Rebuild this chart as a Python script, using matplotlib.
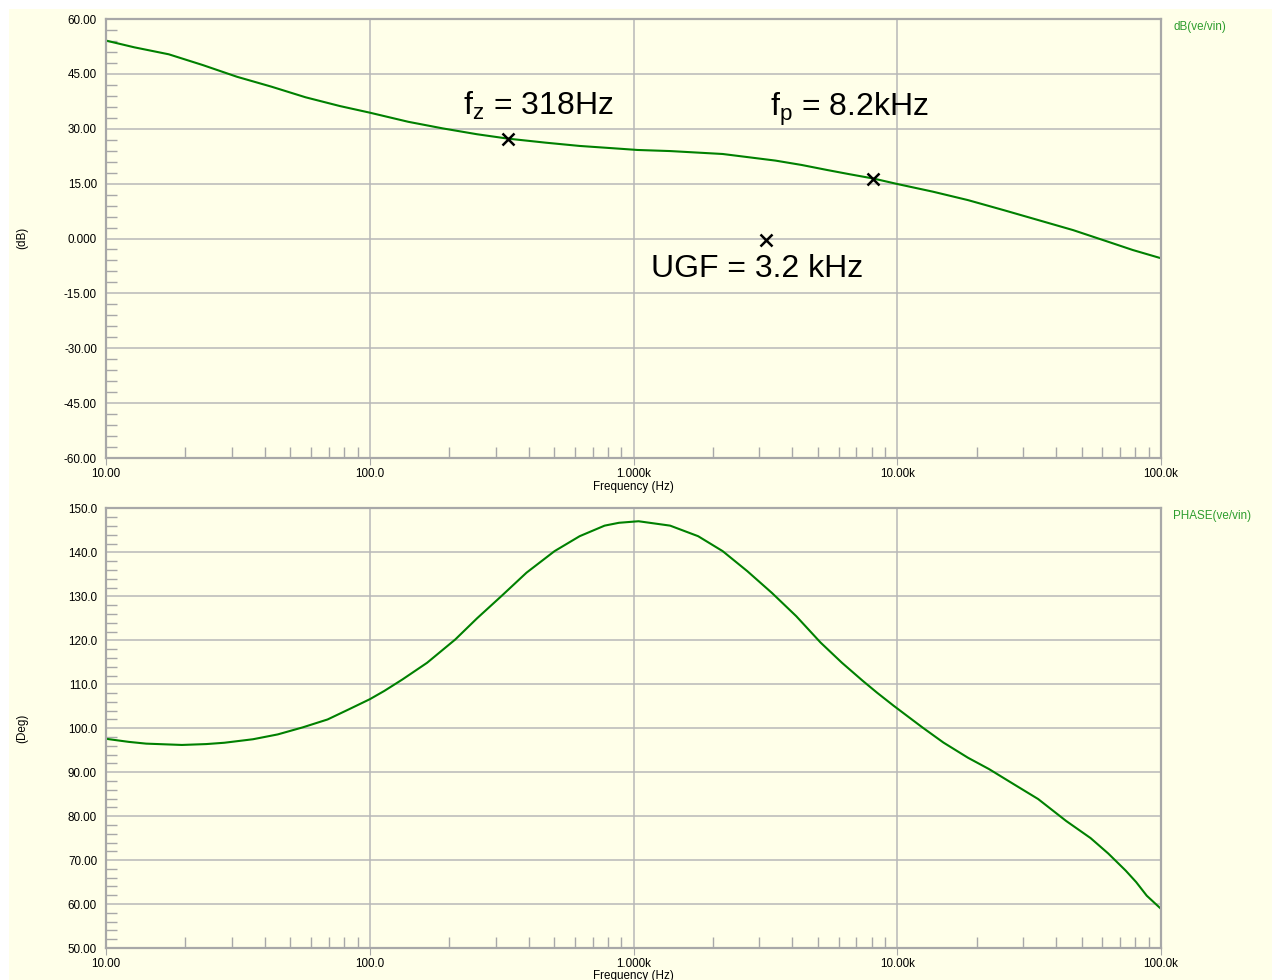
import matplotlib
matplotlib.use('Agg')
import matplotlib.pyplot as plt
from matplotlib.patches import Rectangle
from matplotlib.ticker import FixedLocator, NullFormatter, LogLocator

plt.rcParams['font.family'] = ['Liberation Sans', 'DejaVu Sans']
plt.rcParams['mathtext.fontset'] = 'custom'
plt.rcParams['mathtext.rm'] = 'Liberation Sans'
plt.rcParams['mathtext.it'] = 'Liberation Sans'

# gain curve dB(ve/vin)
mag_f = [10, 12.8, 17.3, 23.3, 31.4, 42.4, 57.1, 77.1, 100, 140, 189, 255, 334,
         464, 625, 844, 1035, 1377, 2178, 3450, 4340, 5445, 6560, 8110, 10000,
         13650, 18530, 25200, 34200, 46400, 63100, 78200, 100000]
mag_db = [54.1, 52.26, 50.35, 47.4, 44.2, 41.5, 38.6, 36.2, 34.4, 31.9, 30.1, 28.5, 27.3,
          26.2, 25.3, 24.65, 24.2, 23.9, 23.1, 21.3, 20.1, 18.7, 17.6, 16.4, 14.9,
          12.8, 10.5, 7.8, 5.05, 2.3, -0.9, -3.15, -5.4]

# phase curve PHASE(ve/vin)
ph_f = [10, 12.2, 14.2, 19.4, 24.0, 28.1, 36.1, 44.8, 55.7, 69.2, 83.3, 100, 113.6,
        133, 165, 211, 255, 316, 393, 502, 625, 777, 881, 1045, 1377, 1758, 2178,
        2700, 3347, 4140, 5120, 6170, 7413, 8380, 9700, 12450, 14960, 18530, 22300,
        27600, 34200, 43700, 54100, 63100, 73500, 80500, 88300, 100000]
ph_deg = [97.6, 96.9, 96.5, 96.2, 96.4, 96.7, 97.5, 98.6, 100.2, 102.0, 104.3, 106.6, 108.5,
          111.1, 114.9, 120.2, 125.0, 130.1, 135.4, 140.3, 143.7, 146.1, 146.75, 147.1, 146.1,
          143.7, 140.3, 135.75, 130.8, 125.5, 119.5, 114.9, 110.75, 108.1, 105.1, 100.2, 96.75,
          93.3, 90.7, 87.3, 83.9, 78.9, 75.0, 71.5, 67.6, 65.0, 61.9, 58.9]

# marked points on the gain plot
mark_f = [334, 8110, 3180]
mark_db = [27.3, 16.4, -0.3]
mark_text = [r'f$_\mathregular{z}$ = 318Hz', r'f$_\mathregular{p}$ = 8.2kHz', 'UGF = 3.2 kHz']
text_f = [226, 3289, 1170]
text_db = [33.75, 33.5, -10.5]

x_ticks = [10, 100, 1000, 10000, 100000]
x_labels = ['10.00', '100.0', '1.000k', '10.00k', '100.0k']
db_ticks = [60, 45, 30, 15, 0, -15, -30, -45, -60]
db_labels = ['60.00', '45.00', '30.00', '15.00', '0.000', '-15.00', '-30.00', '-45.00', '-60.00']
deg_ticks = [150, 140, 130, 120, 110, 100, 90, 80, 70, 60, 50]
deg_labels = ['150.0', '140.0', '130.0', '120.0', '110.0', '100.0', '90.00', '80.00',
              '70.00', '60.00', '50.00']

W, H = 1272, 980
bg = '#FFFFE9'
green = '#008000'
label_green = '#2E9E2E'
grey = '#A8A8A8'
small = 8.4

fig = plt.figure(figsize=(W / 100, H / 100), dpi=100, facecolor='white')
fig.patches.append(Rectangle((9 / W, 0), 1, 1 - 9 / H, transform=fig.transFigure,
                             facecolor=bg, edgecolor='none', zorder=-10))


def setup(ax, yt, yl, ylim, minor_step):
    ax.set_facecolor(bg)
    ax.set_xscale('log')
    ax.set_xlim(10, 100000)
    ax.set_ylim(*ylim)
    ax.set_xticks(x_ticks)
    ax.set_xticklabels(x_labels)
    ax.xaxis.set_minor_locator(LogLocator(base=10, subs=range(2, 10)))
    ax.xaxis.set_minor_formatter(NullFormatter())
    ax.set_yticks(yt)
    ax.set_yticklabels(yl)
    lo, hi = ylim
    n = int(round((hi - lo) / minor_step))
    ax.yaxis.set_minor_locator(FixedLocator([lo + i * minor_step for i in range(n + 1)]))
    ax.grid(True, which='major', color='#B8B8B8', lw=1.1)
    for s in ax.spines.values():
        s.set_color(grey)
        s.set_linewidth(1.6)
    ax.tick_params(axis='x', which='major', direction='out', length=5, color=grey,
                   labelsize=small, pad=2.5)
    ax.tick_params(axis='x', which='minor', direction='in', length=8, color=grey, width=1)
    ax.tick_params(axis='y', which='major', direction='in', length=0, labelsize=small, pad=6.5)
    ax.tick_params(axis='y', which='minor', direction='in', length=8, color=grey, width=1)
    ax.set_axisbelow(True)


ax1 = fig.add_axes([106 / W, 1 - 458 / H, 1055 / W, 439 / H])
setup(ax1, db_ticks, db_labels, (-60, 60), 3)
ax1.plot(mag_f, mag_db, color=green, lw=1.5)
ax1.plot(mark_f, mark_db, 'x', color='black', ms=9, mew=1.8)
for f, d, t in zip(text_f, text_db, mark_text):
    ax1.text(f, d, t, fontsize=23, va='baseline', ha='left', color='black')

ax2 = fig.add_axes([106 / W, 1 - 948 / H, 1055 / W, 439.5 / H])
setup(ax2, deg_ticks, deg_labels, (50, 150), 2)
ax2.plot(ph_f, ph_deg, color=green, lw=1.5)

fig.text(633 / W, 1 - 487 / H, 'Frequency (Hz)', fontsize=small, ha='center', va='center')
fig.text(633 / W, 1 - 976 / H, 'Frequency (Hz)', fontsize=small, ha='center', va='center')
fig.text(22 / W, 1 - 238 / H, '(dB)', fontsize=small, rotation=90, ha='center', va='center')
fig.text(22 / W, 1 - 728 / H, '(Deg)', fontsize=small, rotation=90, ha='center', va='center')
fig.text(1173 / W, 1 - 27 / H, 'dB(ve/vin)', fontsize=small, color=label_green, ha='left', va='center')
fig.text(1173 / W, 1 - 516 / H, 'PHASE(ve/vin)', fontsize=small, color=label_green, ha='left', va='center')

fig.savefig('out.png', dpi=100, facecolor='white')
